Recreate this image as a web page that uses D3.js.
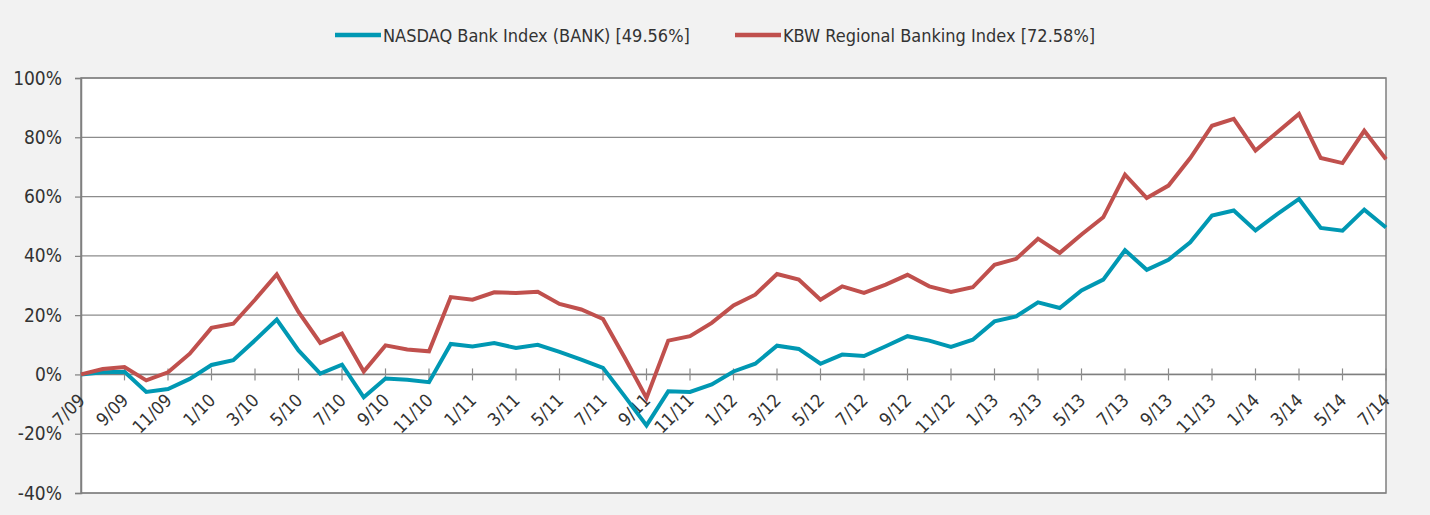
<!DOCTYPE html>
<html>
<head>
<meta charset="utf-8">
<script src="https://cdn.jsdelivr.net/npm/d3@7"></script>
<style>
  body { margin: 0; background: #f2f2f2; }
  svg text { font-family: "Liberation Sans Narrow", "DejaVu Sans Condensed", "Roboto", sans-serif; fill: #333; }
</style>
</head>
<body>
<div id="chart"></div>
<script>
// month labels, one per data point
const months = ["7/09","8/09","9/09","10/09","11/09","12/09",
  "1/10","2/10","3/10","4/10","5/10","6/10","7/10","8/10","9/10","10/10","11/10","12/10",
  "1/11","2/11","3/11","4/11","5/11","6/11","7/11","8/11","9/11","10/11","11/11","12/11",
  "1/12","2/12","3/12","4/12","5/12","6/12","7/12","8/12","9/12","10/12","11/12","12/12",
  "1/13","2/13","3/13","4/13","5/13","6/13","7/13","8/13","9/13","10/13","11/13","12/13",
  "1/14","2/14","3/14","4/14","5/14","6/14","7/14"];

const nasdaqBank = [0, 0.7, 0.9, -5.9, -4.9, -1.5, 3.2, 4.8, 11.5, 18.5, 8.1, 0.3, 3.3, -7.7, -1.4, -1.8, -2.6, 10.3, 9.4,
  10.6, 8.9, 10.0, 7.6, 5.0, 2.2, -7.4, -17.2, -5.7, -5.9, -3.4, 1.0, 3.6, 9.7, 8.6, 3.6, 6.7, 6.2, 9.5, 12.9, 11.4,
  9.3, 11.7, 17.9, 19.6, 24.3, 22.4, 28.3, 32.0, 41.9, 35.3, 38.7, 44.6, 53.6, 55.3, 48.6, 54.1, 59.2, 49.4, 48.5, 55.6, 49.56];

const kbwRegional = [0, 1.8, 2.5, -2.0, 0.7, 7.0, 15.7, 17.1, 25.2, 33.7, 21.1, 10.6, 13.8, 1.0, 9.8, 8.4, 7.8, 26.1, 25.2,
  27.7, 27.5, 27.9, 23.8, 21.9, 18.7, 5.6, -7.9, 11.4, 12.9, 17.4, 23.3, 26.9, 33.9, 32.0, 25.2, 29.7, 27.5, 30.3, 33.6, 29.7,
  27.8, 29.4, 37.0, 39.0, 45.8, 41.0, 47.2, 53.0, 67.4, 59.5, 63.7, 73.0, 83.9, 86.2, 75.5, 81.7, 87.9, 73.0, 71.3, 82.2, 72.58];

const seriesNames = ["NASDAQ Bank Index (BANK) [49.56%]", "KBW Regional Banking Index [72.58%]"];
const seriesColors = ["#0098b3", "#c0504d"];
const yTicks = [-40, -20, 0, 20, 40, 60, 80, 100];

let margin = {top: 78, left: 81, right: 44, bottom: 22},
    W = 1430, H = 515,
    width = W - margin.left - margin.right,
    height = H - margin.top - margin.bottom;

let svg = d3.select("#chart").append("svg")
  .attr("width", W).attr("height", H)
  .style("display", "block");

svg.append("rect").attr("width", W).attr("height", H).attr("fill", "#f2f2f2");

let g = svg.append("g").attr("transform", "translate(" + margin.left + "," + margin.top + ")");

let x = d3.scalePoint().domain(months).range([0, width]);
let y = d3.scaleLinear().domain([-40, 100]).range([height, 0]);

// plot area
g.append("rect").attr("width", width).attr("height", height).attr("fill", "#fff");

// gridlines
g.selectAll(".grid").data(yTicks).enter().append("line")
  .attr("x1", 0).attr("x2", width)
  .attr("y1", d => y(d)).attr("y2", d => y(d))
  .attr("stroke", "#8c8c8c").attr("stroke-width", 1.2);

// frame
g.append("rect").attr("width", width).attr("height", height)
  .attr("fill", "none").attr("stroke", "#7f7f7f").attr("stroke-width", 1.5);

// y axis
let yAxis = g.append("g")
  .call(d3.axisLeft(y).tickValues(yTicks).tickSize(6).tickPadding(13).tickFormat(d => d + "%"));
yAxis.select(".domain").attr("stroke", "#7f7f7f").attr("stroke-width", 1.5);
yAxis.selectAll(".tick line").attr("stroke", "#7f7f7f").attr("stroke-width", 1.2);
yAxis.selectAll("text").style("font-size", "19px").attr("fill", "#333");

// x axis at 0%
let tickMonths = months.filter((m, i) => i % 2 === 0);
let xAxis = g.append("g").attr("transform", "translate(0," + y(0) + ")");
xAxis.append("line").attr("x1", 0).attr("x2", width)
  .attr("stroke", "#7f7f7f").attr("stroke-width", 1.5);
xAxis.selectAll(".xt").data(tickMonths).enter().append("line")
  .attr("x1", d => x(d)).attr("x2", d => x(d))
  .attr("y1", -6).attr("y2", 6)
  .attr("stroke", "#8c8c8c").attr("stroke-width", 1.2);
xAxis.selectAll(".xl").data(tickMonths).enter().append("text")
  .attr("transform", d => "translate(" + (x(d) + 5) + ",27) rotate(-45)")
  .attr("text-anchor", "end")
  .style("font-size", "18px")
  .text(d => d);

// lines
let line = d3.line().x((d, i) => x(months[i])).y(d => y(d));
[nasdaqBank, kbwRegional].forEach(function(vals, k) {
  g.append("path").datum(vals)
    .attr("d", line)
    .attr("fill", "none")
    .attr("stroke", seriesColors[k])
    .attr("stroke-width", 4)
    .attr("stroke-linejoin", "miter");
});

// legend
let legendX = [335, 735];
seriesNames.forEach(function(name, k) {
  let lg = svg.append("g").attr("transform", "translate(" + legendX[k] + ",35)");
  lg.append("line").attr("x1", 0).attr("x2", 46)
    .attr("stroke", seriesColors[k]).attr("stroke-width", 4.5);
  lg.append("text").attr("x", 48).attr("y", 6.5)
    .style("font-size", "18px")
    .text(name);
});
</script>
</body>
</html>
